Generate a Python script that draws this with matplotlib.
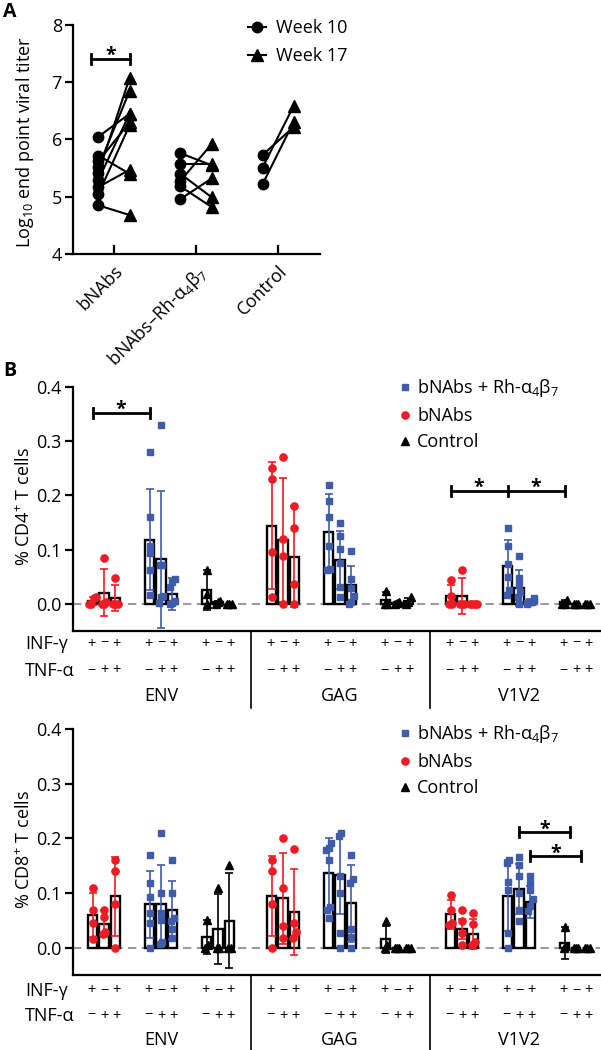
import numpy as np
import matplotlib
matplotlib.use("Agg")
import matplotlib.pyplot as plt
from matplotlib.lines import Line2D
from matplotlib.ticker import FormatStrFormatter
from matplotlib.transforms import blended_transform_factory

plt.rcParams['font.family'] = ['Open Sans', 'DejaVu Sans']
plt.rcParams['mathtext.fontset'] = 'custom'
plt.rcParams['mathtext.rm'] = 'Open Sans'
plt.rcParams['mathtext.it'] = 'Open Sans:italic'
plt.rcParams['mathtext.bf'] = 'Open Sans:bold'

# ---------------- data: panel A (log10 end point viral titer) ----------------
groups_a = ['bNAbs', 'bNAbs–Rh-α$_4$β$_7$', 'Control']
bnabs_w10 = [6.05, 5.72, 5.62, 5.52, 5.42, 5.30, 5.17, 5.05, 4.85]
bnabs_w17 = [6.45, 5.40, 6.30, 6.85, 7.08, 6.45, 5.47, 6.25, 4.68]
rh_w10 = [5.76, 5.58, 5.40, 5.28, 5.18, 4.96]
rh_w17 = [5.55, 5.58, 4.99, 5.92, 4.82, 5.32]
ctrl_w10 = [5.73, 5.51, 5.22]
ctrl_w17 = [6.22, 6.59, 6.31]

# ---------------- data: panel B ----------------
antigens = ['ENV', 'GAG', 'V1V2']
treatments = ['bNAbs + Rh-α$_4$β$_7$', 'bNAbs', 'Control']
ifn_signs = ['+', '−', '+']
tnf_signs = ['−', '+', '+']

# means / SD: [antigen][bNAbs, bNAbs+Rh, Control][IFN+TNF-, IFN-TNF+, IFN+TNF+]
cd4_mean = [[[0.005, 0.021, 0.011], [0.118, 0.082, 0.018], [0.026, 0.003, 0.0]],
            [[0.144, 0.118, 0.087], [0.132, 0.081, 0.035], [0.008, 0.002, 0.005]],
            [[0.014, 0.014, 0.0], [0.069, 0.030, 0.005], [0.003, 0.0, 0.0]]]
cd4_sd = [[[0.007, 0.043, 0.024], [0.093, 0.127, 0.029], [0.037, 0.003, 0.0]],
          [[0.117, 0.115, 0.093], [0.070, 0.053, 0.034], [0.014, 0.002, 0.006]],
          [[0.020, 0.033, 0.0], [0.049, 0.033, 0.004], [0.005, 0.0, 0.0]]]

cd4_env_pts = [[[0.012, 0.011, 0.0, 0.0], [0.085, 0.003, 0.0, 0.0], [0.047, 0.0, 0.0, 0.0]],
               [[0.28, 0.16, 0.106, 0.093, 0.063, 0.017], [0.33, 0.072, 0.071, 0.015, 0.012, 0.002],
                [0.045, 0.04, 0.032, 0.005, 0.002, 0.0]],
               [[0.063, 0.018, 0.0], [0.006, 0.003, 0.0], [0.0, 0.0, 0.0]]]
cd4_gag_pts = [[[0.25, 0.23, 0.096, 0.013], [0.27, 0.12, 0.089, 0.0], [0.18, 0.14, 0.037, 0.0]],
               [[0.22, 0.19, 0.16, 0.106, 0.064, 0.063], [0.15, 0.125, 0.102, 0.076, 0.032, 0.012],
                [0.098, 0.045, 0.03, 0.014, 0.003, 0.0]],
               [[0.024, 0.0, 0.0], [0.004, 0.002, 0.0], [0.012, 0.004, 0.0]]]
cd4_v1v2_pts = [[[0.044, 0.014, 0.0, 0.0], [0.063, 0.0, 0.0, 0.0], [0.0, 0.0, 0.0, 0.0]],
                [[0.14, 0.106, 0.074, 0.05, 0.026, 0.017], [0.089, 0.047, 0.034, 0.022, 0.012, 0.0],
                 [0.01, 0.006, 0.004, 0.003, 0.002, 0.0]],
                [[0.008, 0.0, 0.0], [0.0, 0.0, 0.0], [0.0, 0.0, 0.0]]]

cd8_mean = [[[0.060, 0.044, 0.094], [0.079, 0.079, 0.069], [0.019, 0.035, 0.049]],
            [[0.094, 0.090, 0.065], [0.136, 0.133, 0.081], [0.015, 0.0, 0.0]],
            [[0.061, 0.034, 0.025], [0.095, 0.107, 0.084], [0.008, 0.0, 0.0]]]
cd8_sd = [[[0.040, 0.025, 0.072], [0.061, 0.072, 0.053], [0.031, 0.064, 0.087]],
          [[0.073, 0.084, 0.078], [0.064, 0.072, 0.070], [0.024, 0.0, 0.0]],
          [[0.027, 0.019, 0.028], [0.065, 0.046, 0.029], [0.029, 0.0, 0.0]]]

cd8_env_pts = [[[0.11, 0.069, 0.046, 0.016], [0.069, 0.057, 0.028, 0.025], [0.16, 0.14, 0.08, 0.0]],
               [[0.17, 0.118, 0.093, 0.063, 0.045, 0.0], [0.21, 0.1, 0.063, 0.051, 0.011, 0.007],
                [0.16, 0.1, 0.055, 0.048, 0.034, 0.017]],
               [[0.05, 0.005, 0.0], [0.109, 0.0, 0.0], [0.151, 0.0, 0.0]]]
cd8_gag_pts = [[[0.16, 0.14, 0.08, 0.0], [0.2, 0.11, 0.04, 0.017], [0.18, 0.046, 0.028, 0.018]],
               [[0.192, 0.183, 0.179, 0.16, 0.074, 0.069, 0.055], [0.21, 0.204, 0.131, 0.1, 0.026, 0.0],
                [0.17, 0.125, 0.119, 0.035, 0.019, 0.0]],
               [[0.049, 0.004, 0.0], [0.0, 0.0, 0.0], [0.0, 0.0, 0.0]]]
cd8_v1v2_pts = [[[0.096, 0.069, 0.045, 0.041], [0.069, 0.049, 0.026, 0.004], [0.063, 0.043, 0.01, 0.005]],
                [[0.16, 0.155, 0.12, 0.106, 0.026, 0.0], [0.165, 0.151, 0.131, 0.1, 0.069, 0.049],
                 [0.131, 0.119, 0.105, 0.089, 0.077, 0.067]],
                [[0.037, 0.003, 0.0], [0.0, 0.0, 0.0], [0.0, 0.0, 0.0]]]

# ---------------- layout helpers ----------------
W, H = 601, 1050
fig = plt.figure(figsize=(W / 100, H / 100), dpi=100)


def fx(px):
    return px / W


def fy(px):
    return 1 - px / H


RED = '#ED1C24'
BLUE = '#3F5BA9'
ANT_STEP = 3.14
BAR_STEP = 0.2
BAR_W = 0.16
FS = 13


def star(ax, x, y):
    # asterisk sitting just above a significance bar
    ax.annotate('*', (x, y), xytext=(0, -1.5), textcoords='offset points',
                ha='center', va='baseline', fontsize=14, fontweight='bold')


# ================= panel A =================
axA = fig.add_axes([fx(73), fy(254), fx(247), 229 / H])
pairs = [(bnabs_w10, bnabs_w17), (rh_w10, rh_w17), (ctrl_w10, ctrl_w17)]
for i, (w10, w17) in enumerate(pairs):
    for a, b in zip(w10, w17):
        axA.plot([i - 0.19, i + 0.19], [a, b], color='black', lw=1.5, zorder=2)
    axA.plot([i - 0.19] * len(w10), w10, 'o', color='black', ms=7.5, zorder=3)
    axA.plot([i + 0.19] * len(w17), w17, '^', color='black', ms=8.5, zorder=3)

axA.set_xlim(-0.5, 2.51)
axA.set_ylim(4, 8)
axA.set_yticks([4, 5, 6, 7, 8])
axA.set_xticks([0, 1, 2])
axA.set_xticklabels(groups_a, rotation=45, ha='right', rotation_mode='anchor')
for s in ['top', 'right']:
    axA.spines[s].set_visible(False)
for s in ['left', 'bottom']:
    axA.spines[s].set_linewidth(1.6)
axA.tick_params(axis='y', direction='out', length=6, width=1.6, labelsize=FS, pad=2)
axA.tick_params(axis='x', direction='in', length=6.5, width=1.6, labelsize=FS, pad=6)

# significance bracket
sx0, sx1, sy = -0.28, 0.19, 7.41
axA.plot([sx0, sx1], [sy, sy], color='black', lw=2)
for xx in (sx0, sx1):
    axA.plot([xx, xx], [sy - 0.09, sy + 0.09], color='black', lw=2)
star(axA, (sx0 + sx1) / 2, sy)

legA = [Line2D([], [], color='black', marker='o', ms=7.5, lw=1.5),
        Line2D([], [], color='black', marker='^', ms=8.5, lw=1.5)]
fig.legend(legA, ['Week 10', 'Week 17'], loc='upper left', bbox_to_anchor=(fx(248), fy(19)),
           frameon=False, fontsize=FS, handlelength=1.0, handletextpad=0.55,
           labelspacing=0.55, borderpad=0, borderaxespad=0)

fig.text(fx(25), fy(142), 'Log$_{10}$ end point viral titer', rotation=90,
         ha='center', va='center', fontsize=FS)
fig.text(fx(3), fy(2), 'A', fontsize=14, fontweight='bold', ha='left', va='top')
fig.text(fx(3), fy(361), 'B', fontsize=14, fontweight='bold', ha='left', va='top')


# ================= panel B =================
def spread(vals, step=0.04, tol=0.012):
    vals = np.asarray(vals, dtype=float)
    order = np.argsort(vals)
    offs = np.zeros(len(vals))
    clusters = []
    for idx in order:
        if clusters and vals[idx] - vals[clusters[-1][-1]] < tol:
            clusters[-1].append(idx)
        else:
            clusters.append([idx])
    for c in clusters:
        n = len(c)
        for r, idx in enumerate(c):
            offs[idx] = (r - (n - 1) / 2) * step
    return np.clip(offs, -0.06, 0.06)


def xpos(i, j, k):
    return i * ANT_STEP + j + (k - 1) * BAR_STEP


def draw_panel(ax, means, sds, pts, ylab, top_px, bottom_px, row_px, leg_px):
    ax.axhline(0, color='#9b9b9b', lw=1.5, dashes=(4, 2.6), zorder=1)
    for i in range(3):
        for j in range(3):
            c = [RED, BLUE, 'black'][j]
            mk = ['o', 's', '^'][j]
            ms = [5.2, 4.8, 5.8][j]
            for k in range(3):
                x = xpos(i, j, k)
                m = means[i][j][k]
                s = sds[i][j][k]
                ax.bar(x, m, width=BAR_W, facecolor='white', edgecolor='black', lw=1.7, zorder=2)
                if s > 0:
                    ax.errorbar(x, m, yerr=s, fmt='none', ecolor=c, elinewidth=1.2,
                                capsize=3, capthick=1.2, zorder=3)
                v = pts[i][j][k]
                ax.plot(x + spread(v), v, ls='none', marker=mk, ms=ms, color=c,
                        mec=c, zorder=4)
    ax.set_xlim(-0.544, 8.70)
    ax.set_ylim(-0.05, 0.4)
    ax.set_yticks([0.0, 0.1, 0.2, 0.3, 0.4])
    ax.yaxis.set_major_formatter(FormatStrFormatter('%.1f'))
    ax.set_xticks([])
    for s in ['top', 'right']:
        ax.spines[s].set_visible(False)
    for s in ['left', 'bottom']:
        ax.spines[s].set_linewidth(1.6)
    ax.tick_params(axis='y', direction='out', length=6, width=1.6, labelsize=FS, pad=2)
    fig.text(fx(25), fy((top_px + bottom_px) / 2 - 2), ylab, rotation=90,
             ha='center', va='center', fontsize=FS)

    tr = blended_transform_factory(ax.transData, fig.transFigure)
    fig.text(fx(25), fy(row_px[0]), 'INF-γ', ha='left', va='center', fontsize=FS)
    fig.text(fx(25), fy(row_px[1]), 'TNF-α', ha='left', va='center', fontsize=FS)
    for i in range(3):
        for j in range(3):
            for k in range(3):
                xx = i * ANT_STEP + j + (k - 1) * 0.225
                ax.text(xx, fy(row_px[0]), ifn_signs[k], transform=tr, ha='center',
                        va='center', fontsize=10.5)
                ax.text(xx, fy(row_px[1]), tnf_signs[k], transform=tr, ha='center',
                        va='center', fontsize=10.5)
        ax.text(i * ANT_STEP + 1, fy(row_px[2]), antigens[i], transform=tr, ha='center',
                va='center', fontsize=FS)
    for i in range(2):
        xs = i * ANT_STEP + 2 + (ANT_STEP - 2) / 2
        ax.add_line(Line2D([xs, xs], [fy(bottom_px), fy(row_px[2] + 12)], transform=tr,
                           color='black', lw=1.2, clip_on=False))

    handles = [Line2D([], [], ls='none', marker='s', ms=4.8, color=BLUE),
               Line2D([], [], ls='none', marker='o', ms=5.2, color=RED),
               Line2D([], [], ls='none', marker='^', ms=5.8, color='black')]
    ax.legend(handles, treatments, loc='upper left',
              bbox_to_anchor=(fx(399), fy(leg_px)), bbox_transform=fig.transFigure,
              frameon=False, fontsize=FS, handlelength=0.7, handletextpad=0.3,
              labelspacing=0.45, borderpad=0, borderaxespad=0)


def bracket(ax, xs, y, dy=0.009):
    ax.plot([xs[0], xs[-1]], [y, y], color='black', lw=2, zorder=5, clip_on=False)
    for xx in xs:
        ax.plot([xx, xx], [y - dy, y + dy], color='black', lw=2, zorder=5, clip_on=False)
    for a, b in zip(xs[:-1], xs[1:]):
        star(ax, (a + b) / 2, y)


ax1 = fig.add_axes([fx(73), fy(631), fx(527), 244 / H])
draw_panel(ax1, cd4_mean, cd4_sd, [cd4_env_pts, cd4_gag_pts, cd4_v1v2_pts],
           '% CD4$^{+}$ T cells', 387, 631, (644, 671, 696), 377)
bracket(ax1, [xpos(0, 0, 0), xpos(0, 1, 0)], 0.352)
bracket(ax1, [xpos(2, 0, 0), xpos(2, 1, 0), xpos(2, 2, 0)], 0.208)

ax2 = fig.add_axes([fx(73), fy(975), fx(527), 246 / H])
draw_panel(ax2, cd8_mean, cd8_sd, [cd8_env_pts, cd8_gag_pts, cd8_v1v2_pts],
           '% CD8$^{+}$ T cells', 729, 975, (991, 1016, 1040), 723)
bracket(ax2, [xpos(2, 1, 1), xpos(2, 2, 0) + 0.1], 0.211)
bracket(ax2, [xpos(2, 1, 2), xpos(2, 2, 1) + 0.09], 0.167)

fig.savefig('out.png', dpi=100)
